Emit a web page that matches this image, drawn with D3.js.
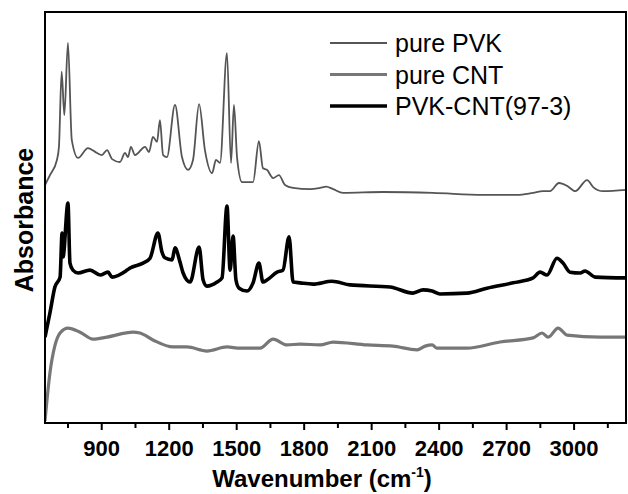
<!DOCTYPE html>
<html>
<head>
<meta charset="utf-8">
<script src="https://cdn.jsdelivr.net/npm/d3@7"></script>
<style>
  body { margin: 0; background: #fff; }
  svg { display: block; }
  text { font-family: "Liberation Sans", Arial, sans-serif; }
</style>
</head>
<body>
<svg id="chart" width="628" height="494"></svg>
<script>
// FTIR spectra: [wavenumber (cm-1), absorbance (arb. units)]
const pvk = [
  [650, 57.9], [672, 60.3], [703, 64.0], [712, 67.2], [724, 85.5], [736, 74.9], [752, 92.5],
  [769, 68.9], [797, 64.5], [841, 66.9], [881, 65.7], [903, 65.2], [926, 66.4], [948, 64.2],
  [983, 63.5], [1006, 65.7], [1019, 64.7], [1032, 67.2], [1050, 65.2], [1095, 67.2], [1112, 65.9],
  [1130, 69.6], [1148, 68.4], [1161, 73.7], [1175, 65.2], [1192, 64.7], [1228, 77.4], [1259, 64.7],
  [1286, 61.6], [1308, 64.0], [1335, 77.6], [1361, 66.4], [1393, 60.8], [1410, 64.0], [1428, 63.3],
  [1459, 90.0], [1477, 63.3], [1490, 77.4], [1504, 64.5], [1526, 58.6], [1575, 58.6], [1601, 68.6],
  [1619, 62.0], [1637, 61.6], [1664, 59.6], [1690, 60.3], [1717, 57.9], [1753, 57.2], [1828, 56.9],
  [1873, 57.2], [1900, 57.5], [1931, 56.9], [1975, 56.0], [2153, 56.2], [2375, 56.0], [2598, 55.5],
  [2749, 55.5], [2820, 56.0], [2864, 56.4], [2895, 56.4], [2935, 58.4], [2971, 57.7], [3007, 56.4],
  [3060, 59.1], [3087, 57.4], [3131, 56.4], [3233, 56.7]
]
const cnt = [
  [650, 0.5], [672, 12.2], [694, 18.8], [717, 21.9], [752, 23.1], [806, 22.1], [863, 20.4],
  [926, 20.9], [1041, 22.1], [1072, 21.9], [1130, 20.2], [1219, 18.5], [1281, 18.5], [1370, 17.5],
  [1459, 18.5], [1517, 18.2], [1606, 18.2], [1664, 20.4], [1726, 19.0], [1784, 19.2], [1873, 19.0],
  [1931, 19.7], [2082, 19.0], [2197, 18.7], [2304, 17.8], [2340, 18.7], [2371, 19.0], [2393, 18.2],
  [2526, 18.2], [2673, 19.7], [2820, 20.7], [2860, 21.9], [2887, 20.9], [2931, 23.1], [2971, 21.4],
  [3118, 20.9], [3233, 20.9]
]
const composite = [
  [650, 20.9], [672, 26.8], [694, 33.1], [717, 35.5], [726, 46.2], [730, 40.4], [752, 53.5],
  [761, 38.9], [774, 37.2], [797, 36.5], [850, 37.2], [895, 36.0], [930, 36.7], [948, 35.5],
  [1015, 37.2], [1028, 37.7], [1086, 38.9], [1117, 40.1], [1152, 46.2], [1170, 41.6], [1183, 40.2],
  [1215, 39.7], [1228, 42.6], [1250, 39.2], [1264, 36.5], [1295, 34.3], [1335, 42.8], [1353, 34.8],
  [1370, 33.3], [1415, 34.3], [1437, 35.3], [1459, 52.8], [1473, 37.2], [1486, 45.5], [1499, 34.8],
  [1513, 32.8], [1548, 32.1], [1575, 34.1], [1601, 38.9], [1619, 34.3], [1637, 34.8], [1682, 36.7],
  [1708, 37.2], [1735, 45.3], [1753, 34.3], [1784, 34.1], [1842, 33.8], [1926, 34.5], [2006, 33.6],
  [2184, 33.1], [2286, 31.6], [2331, 32.4], [2371, 32.1], [2406, 31.4], [2526, 31.6], [2615, 32.8],
  [2731, 34.1], [2820, 35.3], [2851, 36.7], [2882, 36.0], [2926, 40.1], [2953, 38.9], [2984, 36.7],
  [3029, 36.5], [3051, 37.0], [3096, 35.5], [3233, 35.3]
]
const seriesNames = ['pure PVK', 'pure CNT', 'PVK-CNT(97-3)']
const xTicks = [900, 1200, 1500, 1800, 2100, 2400, 2700, 3000]
const xMinorTicks = [750, 1050, 1350, 1650, 1950, 2250, 2550, 2850, 3150]

const svg = d3.select('#chart')
const margin = {top: 12, right: 2, bottom: 71, left: 45}
const width = 628 - margin.left - margin.right
const height = 494 - margin.top - margin.bottom

const x = d3.scaleLinear().domain([650, 3233]).range([margin.left, margin.left + width])
const y = d3.scaleLinear().domain([0, 100]).range([margin.top + height, margin.top])

svg.append('clipPath').attr('id', 'plot-clip')
  .append('rect')
    .attr('x', margin.left).attr('y', margin.top)
    .attr('width', width).attr('height', height)

const line = d3.line()
  .x(d => x(d[0]))
  .y(d => y(d[1]))
  .curve(d3.curveMonotoneX)

const styles = [
  {data: pvk, color: '#555', w: 1.8},
  {data: cnt, color: '#777', w: 3.2},
  {data: composite, color: '#000', w: 3.6}
]

const lines = svg.append('g').attr('clip-path', 'url(#plot-clip)')
styles.forEach(s => {
  lines.append('path')
    .datum(s.data)
    .attr('fill', 'none')
    .attr('stroke', s.color)
    .attr('stroke-width', s.w)
    .attr('stroke-linejoin', 'round')
    .attr('d', line)
})

// frame
svg.append('rect')
  .attr('x', margin.left).attr('y', margin.top)
  .attr('width', width).attr('height', height)
  .attr('fill', 'none')
  .attr('stroke', '#000')
  .attr('stroke-width', 2)

// bottom axis
const xAxis = svg.append('g')
  .attr('transform', 'translate(0,' + (margin.top + height) + ')')
  .call(d3.axisBottom(x).tickValues(xTicks).tickSize(7).tickPadding(10).tickFormat(d3.format('d')))
xAxis.select('.domain').remove()
xAxis.selectAll('line').attr('stroke-width', 2)
xAxis.selectAll('text')
  .attr('font-size', 22)
  .attr('font-weight', 'bold')
  .attr('font-family', '"Liberation Sans", Arial, sans-serif')
  .attr('fill', '#000')

svg.append('g')
  .attr('transform', 'translate(0,' + (margin.top + height) + ')')
  .call(d3.axisBottom(x).tickValues(xMinorTicks).tickSize(5).tickFormat(''))
  .call(g => g.select('.domain').remove())
  .selectAll('line').attr('stroke-width', 2)

// axis titles
const xTitle = svg.append('text')
  .attr('x', 322).attr('y', 487)
  .attr('text-anchor', 'middle')
  .attr('font-size', 24)
  .attr('font-weight', 'bold')
xTitle.append('tspan').text('Wavenumber (cm')
xTitle.append('tspan').attr('font-size', 14).attr('dy', -10).text('-1')
xTitle.append('tspan').attr('dy', 10).text(')')

svg.append('text')
  .attr('transform', 'translate(33,220) rotate(-90)')
  .attr('text-anchor', 'middle')
  .attr('font-size', 25)
  .attr('font-weight', 'bold')
  .text('Absorbance')

// legend
const legend = svg.append('g')
  .selectAll('g')
  .data(styles)
  .enter().append('g')
    .attr('transform', (d, i) => 'translate(330,' + (43 + i * 31.5) + ')')

legend.append('line')
  .attr('x1', 0).attr('x2', 57)
  .attr('stroke', d => d.color)
  .attr('stroke-width', d => d.w)

legend.append('text')
  .attr('x', 65)
  .attr('y', 9)
  .attr('font-size', 25)
  .attr('fill', '#000')
  .text((d, i) => seriesNames[i])
</script>
</body>
</html>
